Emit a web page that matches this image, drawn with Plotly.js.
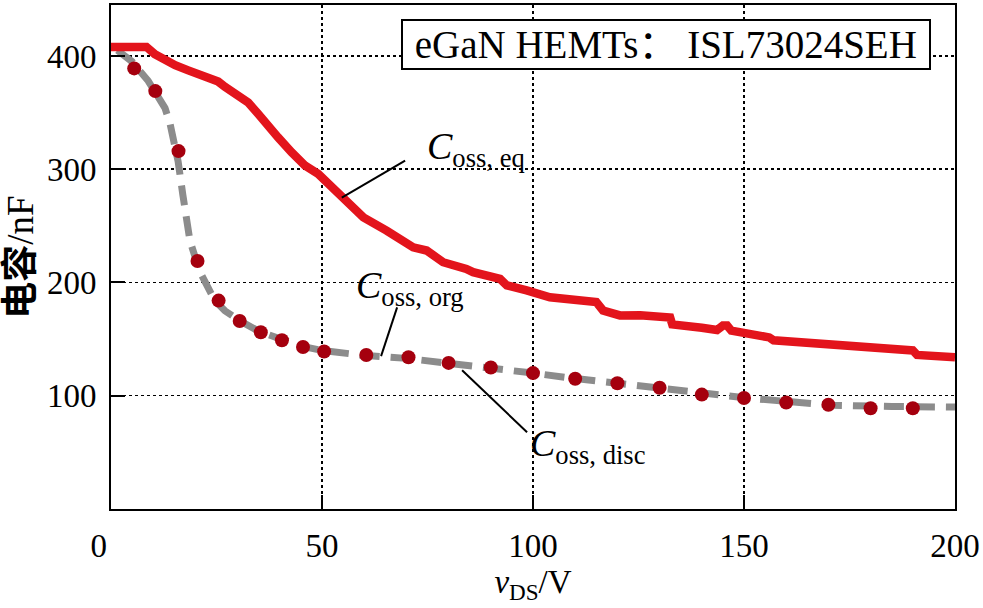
<!DOCTYPE html>
<html>
<head>
<meta charset="utf-8">
<script src="https://cdn.plot.ly/plotly-3.0.1.min.js"></script>
<style>html,body{margin:0;padding:0;background:#fff;}</style>
</head>
<body>
<div id="chart" style="width:983px;height:608px;"></div>
<script>
// Coss,eq (red solid line)
const eqX = [0, 8.4, 10.4, 12.8, 15.2, 18.3, 22.3, 25.4, 27, 30.2, 32.5, 34.9, 37.3, 39.6, 42.8, 46, 49.1, 52.2, 55, 59.8, 65.3, 71.6, 74.8, 78.7, 84.2, 85.8, 92.2, 93.8, 98.5, 104, 115, 116.6, 120.6, 125.4, 132.5, 133, 140, 143.6, 145, 146, 147, 152, 156, 157, 165, 176.7, 178, 185, 190, 191, 200];
const eqY = [408, 408, 401.5, 395.6, 391.8, 387.3, 380.9, 377.4, 372.7, 364.8, 359, 348.7, 336.9, 328.1, 314.9, 303.1, 295.8, 284, 275, 257.5, 245.8, 231, 228.2, 217.9, 212, 209.1, 203.2, 197.4, 193, 187, 182.7, 175.3, 170.9, 171, 169, 163, 160, 158, 162, 162, 157.5, 155, 151.5, 149, 147, 143, 142, 141, 140, 136, 134];
// Coss,org (gray dashed line)
const orgX = [1.5, 5, 8.8, 12.8, 14, 15.9, 17, 18.7, 21, 24.6, 27, 30.6, 35, 40, 44.8, 50, 59, 70, 80, 92, 100, 108, 120, 135.5, 150.7, 160, 171, 185, 198, 200];
const orgY = [405, 395, 378, 354, 340, 307, 278, 237, 210, 184, 175, 166, 157, 150, 144, 140, 136, 133, 129, 124, 120, 116, 111, 103, 98, 95, 91.6, 90.5, 90, 90];
// Coss,disc (dark red markers)
const discX = [5.5, 10.5, 16, 20.5, 25.5, 30.5, 35.5, 40.5, 45.5, 50.5, 60.5, 70.5, 80, 90, 100, 110, 120, 130, 140, 150, 160, 170, 180, 190];
const discY = [389, 369, 316, 219, 184, 166, 156, 149, 143, 139, 136, 134, 129, 125, 120, 115, 111, 107, 101, 98, 94, 92, 89, 89];
// axis ticks
const xTicks = [0, 50, 100, 150, 200];
const yTicks = [100, 200, 300, 400];

const serif = "Liberation Serif, 'Times New Roman', serif";
const nb = '\u00a0';

const traces = [
  {x: orgX, y: orgY, type: 'scatter', mode: 'lines',
   line: {color: '#8c8c8c', width: 7, dash: '20px,11px'}, hoverinfo: 'skip'},
  {x: discX, y: discY, type: 'scatter', mode: 'markers',
   marker: {color: '#a5000e', size: 14}, hoverinfo: 'skip'},
  {x: eqX, y: eqY, type: 'scatter', mode: 'lines',
   line: {color: '#e3141c', width: 8.5}, hoverinfo: 'skip'}
];

const lblFont = {family: serif, size: 38, color: '#000'};
function lbl(sub) {
  return '<i>C</i><sub>' + sub + '</sub>';
}
const layout = {
  width: 983, height: 608,
  margin: {l: 111, r: 28, t: 5, b: 99},
  paper_bgcolor: '#fff', plot_bgcolor: '#fff',
  showlegend: false,
  xaxis: {
    range: [0, 200], tickvals: xTicks,
    ticktext: xTicks.map(v => v === 0 ? '0' + nb + nb + nb : String(v)),
    showgrid: true, gridcolor: '#000', gridwidth: 1.5, griddash: 'dot',
    zeroline: false, showline: true, linecolor: '#000', linewidth: 2, mirror: true,
    ticks: 'inside', ticklen: 14, tickwidth: 2, tickcolor: '#000',
    ticklabelstandoff: 6,
    tickfont: {family: serif, size: 33, color: '#000'},
    title: {text: '<i>v</i><sub>DS</sub>/V', font: {family: serif, size: 33, color: '#000'}, standoff: 0}
  },
  yaxis: {
    range: [0, 445], tickvals: yTicks, ticktext: yTicks.map(String),
    showgrid: true, gridcolor: '#000', gridwidth: 1.5, griddash: 'dot',
    zeroline: false, showline: true, linecolor: '#000', linewidth: 2, mirror: true,
    ticks: 'inside', ticklen: 14, tickwidth: 2, tickcolor: '#000',
    ticklabelstandoff: 6,
    tickfont: {family: serif, size: 33, color: '#000'},
    title: {text: '<b>电容</b>/nF' + nb + nb, font: {family: "Liberation Serif, 'Noto Sans CJK SC', serif", size: 37, color: '#000'}, standoff: 6}
  },
  shapes: [
    {type: 'line', xref: 'x', yref: 'y', x0: 54.7, y0: 275, x1: 69.7, y1: 307.5, line: {color: '#000', width: 2}},
    {type: 'line', xref: 'x', yref: 'y', x0: 64, y0: 135, x1: 67.8, y1: 178, line: {color: '#000', width: 2}},
    {type: 'line', xref: 'x', yref: 'y', x0: 83.2, y0: 122.5, x1: 98.6, y1: 67.8, line: {color: '#000', width: 2}}
  ],
  annotations: [
    {xref: 'x', yref: 'y', x: 74.4, y: 318, xanchor: 'left', yanchor: 'middle', showarrow: false,
     text: lbl('oss, eq'), font: lblFont},
    {xref: 'x', yref: 'y', x: 57.5, y: 195, xanchor: 'left', yanchor: 'middle', showarrow: false,
     text: lbl('oss, org'), font: lblFont},
    {xref: 'x', yref: 'y', x: 98.8, y: 56, xanchor: 'left', yanchor: 'middle', showarrow: false,
     text: lbl('oss, disc'), font: lblFont},
    {xref: 'paper', yref: 'paper', x: 0.657, y: 0.9226, xanchor: 'center', yanchor: 'middle', showarrow: false,
     text: nb + 'eGaN HEMTs： ISL73024SEH' + nb, font: {family: "Liberation Serif, 'Noto Sans CJK SC', serif", size: 39, color: '#000'},
     bgcolor: '#fff', bordercolor: '#000', borderwidth: 2, borderpad: 2}
  ]
};

Plotly.newPlot('chart', traces, layout, {staticPlot: true, displayModeBar: false});
</script>
</body>
</html>
